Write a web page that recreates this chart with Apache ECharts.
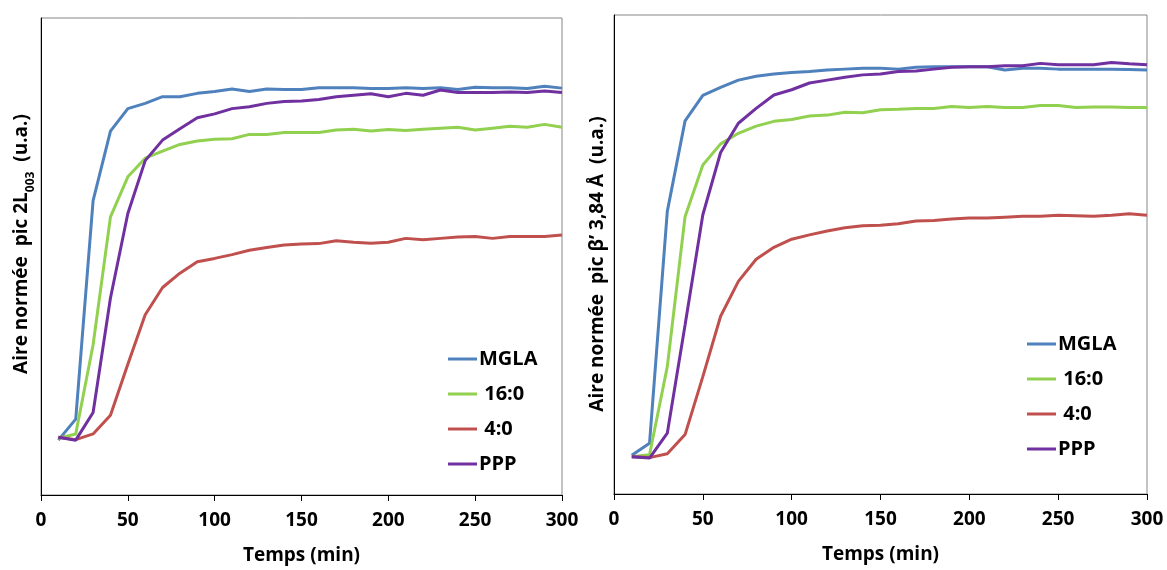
<!DOCTYPE html>
<html>
<head>
<meta charset="utf-8">
<script src="https://cdn.jsdelivr.net/npm/echarts@6/dist/echarts.min.js"></script>
<style>
html,body{margin:0;padding:0;background:#fff;}
#chart{width:1167px;height:570px;}
</style>
</head>
<body>
<div id="chart"></div>
<script>
const times = [10,20,30,40,50,60,70,80,90,100,110,120,130,140,150,160,170,180,190,200,210,220,230,240,250,260,270,280,290,300];
const seriesNames = ['MGLA','16:0','4:0','PPP'];
const xTicks = [0,50,100,150,200,250,300];

// Left panel: Aire normée pic 2L003
const mglaL = [11.5,15.9,61.7,76.3,81.0,82.1,83.5,83.5,84.2,84.6,85.1,84.6,85.1,85.0,85.0,85.4,85.4,85.4,85.2,85.2,85.4,85.2,85.4,85.0,85.5,85.4,85.4,85.2,85.7,85.3];
const c160L = [11.9,12.8,31.5,58.3,66.7,70.6,72.1,73.5,74.2,74.6,74.7,75.6,75.6,76.0,76.0,76.0,76.5,76.7,76.3,76.6,76.4,76.7,76.9,77.1,76.5,76.9,77.3,77.1,77.7,77.1];
const c40L  = [12.1,11.6,12.8,16.7,27.4,37.8,43.5,46.5,48.9,49.6,50.4,51.3,51.9,52.4,52.6,52.7,53.3,53.0,52.8,53.0,53.8,53.5,53.8,54.1,54.2,53.8,54.2,54.2,54.2,54.5];
const pppL  = [12.1,11.5,17.3,41.3,59.0,70.1,74.4,76.8,79.1,79.9,81.0,81.4,82.1,82.5,82.6,82.9,83.5,83.8,84.1,83.5,84.2,83.8,84.9,84.4,84.4,84.4,84.5,84.4,84.7,84.4];

// Right panel: Aire normée pic β' 3,84 Å
const mglaR = [8.1,10.6,59.0,77.9,83.2,84.9,86.4,87.2,87.7,88.0,88.2,88.5,88.7,88.9,88.9,88.7,89.1,89.2,89.2,89.2,89.2,88.5,88.9,88.9,88.7,88.7,88.7,88.7,88.6,88.5];
const c160R = [7.8,8.2,26.6,57.9,68.7,73.1,75.3,76.8,77.8,78.2,78.9,79.1,79.7,79.6,80.2,80.3,80.5,80.5,80.9,80.7,80.9,80.7,80.7,81.1,81.1,80.7,80.8,80.8,80.7,80.7];
const c40R  = [7.8,7.6,8.4,12.4,24.5,37.1,44.4,49.0,51.5,53.2,54.1,54.9,55.6,56.0,56.1,56.4,57.0,57.1,57.4,57.6,57.6,57.8,58.0,58.0,58.2,58.1,58.0,58.2,58.5,58.2];
const pppR  = [7.8,7.5,12.7,35.3,58.3,71.3,77.4,80.5,83.3,84.4,85.8,86.4,87.0,87.5,87.7,88.2,88.3,88.7,89.1,89.2,89.2,89.4,89.4,89.9,89.6,89.6,89.6,90.1,89.8,89.6];

const colors = ['#4F81BD','#92D050','#C0504D','#7030A0'];
const FONT = '"Open Sans", sans-serif';

const chart = echarts.init(document.getElementById('chart'), null, {renderer:'canvas'});

function pairs(arr){ return times.map((t,i)=>[t, arr[i]]); }

function mkSeries(arrs, idx){
  return arrs.map((a,k)=>({
    type:'line', name: seriesNames[k], xAxisIndex: idx, yAxisIndex: idx,
    data: pairs(a), symbol:'none', smooth:false,
    lineStyle:{color: colors[k], width:3},
    itemStyle:{color: colors[k]},
    emphasis:{disabled:true}
  }));
}

function mkX(idx){
  return {
    gridIndex: idx, type:'value', min:0, max:300, interval:50,
    axisLine:{show:true, lineStyle:{color:'#000', width:1}},
    axisTick:{show:true, length:6, lineStyle:{color:'#000'}},
    axisLabel:{margin:16, color:'#000', fontSize:19, fontWeight:'bold', fontFamily:FONT,
      formatter: v => String(xTicks[xTicks.indexOf(v)])},
    splitLine:{show:false},
    name:'Temps (min)', nameLocation:'middle', nameGap:51,
    nameTextStyle:{color:'#000', fontSize:19, fontWeight:'bold', fontFamily:FONT}
  };
}
function mkY(idx){
  return {
    gridIndex: idx, type:'value', min:0, max:100,
    axisLine:{show:true, lineStyle:{color:'#000', width:1}},
    axisTick:{show:false}, axisLabel:{show:false}, splitLine:{show:false}
  };
}
function mkLegend(left, top){
  return {
    left: left, top: top, orient:'vertical', padding:0,
    icon:'rect', itemWidth:29, itemHeight:3, itemGap:15,
    data: seriesNames,
    selectedMode:false,
    formatter: n => (n==='16:0' || n==='4:0') ? ' ' + n : n,
    textStyle:{color:'#000', fontSize:20, fontWeight:'bold', fontFamily:FONT, lineHeight:18, padding:[0,0,0,-3]}
  };
}

const richSub = {sub:{fontSize:12, fontWeight:'bold', fontFamily:FONT, fill:'#000', lineHeight:30, verticalAlign:'bottom'}};

const option = {
  animation:false,
  backgroundColor:'#fff',
  grid:[
    {left:41, top:18, width:521, height:480, show:true, borderColor:'#868686', borderWidth:1, containLabel:false},
    {left:614, top:15, width:533, height:479, show:true, borderColor:'#868686', borderWidth:1, containLabel:false}
  ],
  xAxis:[mkX(0), mkX(1)],
  yAxis:[mkY(0), mkY(1)],
  legend:[mkLegend(448, 349), mkLegend(1027, 334)],
  series:[].concat(mkSeries([mglaL,c160L,c40L,pppL],0), mkSeries([mglaR,c160R,c40R,pppR],1)),
  graphic:[
    {type:'text', x:22, y:244, rotation:Math.PI/2,
     style:{text:'Aire normée  pic 2L{sub|003}  (u.a.)', fill:'#000', fontSize:19, fontWeight:'bold', fontFamily:FONT,
            align:'center', verticalAlign:'middle', rich: richSub}},
    {type:'text', x:598, y:264, rotation:Math.PI/2,
     style:{text:'Aire normée  pic β’ 3,84 Å  (u.a.)', fill:'#000', fontSize:19, fontWeight:'bold', fontFamily:FONT,
            align:'center', verticalAlign:'middle'}}
  ]
};
chart.setOption(option);
</script>
</body>
</html>
